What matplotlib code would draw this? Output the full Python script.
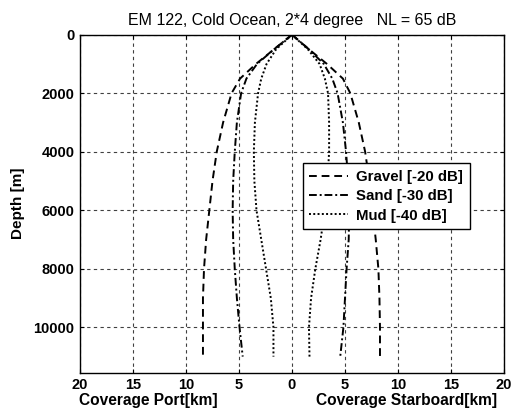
import numpy as np
import matplotlib
matplotlib.use("Agg")
import matplotlib.pyplot as plt

plt.rcParams["font.family"] = ["Liberation Sans", "DejaVu Sans"]

# depth samples [m] and coverage [km]; port side as negative x
depth = [0, 500, 1000, 1500, 2000, 3000, 4000, 5000, 6000, 7000, 8000, 9000, 10000, 11000]

gravel_port = [0, -1.7, -3.4, -4.9, -5.7, -6.5, -7.1, -7.5, -7.8, -8.1, -8.3, -8.4, -8.4, -8.4]
gravel_stbd = [0, 1.6, 3.3, 4.8, 5.5, 6.3, 6.9, 7.3, 7.6, 7.9, 8.15, 8.25, 8.3, 8.3]

sand_port = [0, -1.7, -3.3, -4.3, -4.8, -5.2, -5.4, -5.55, -5.6, -5.55, -5.4, -5.2, -4.95, -4.65]
sand_stbd = [0, 1.6, 3.0, 3.8, 4.3, 4.8, 5.1, 5.3, 5.4, 5.35, 5.15, 5.0, 4.85, 4.55]

mud_port = [0, -1.5, -2.4, -2.9, -3.2, -3.5, -3.6, -3.55, -3.35, -2.9, -2.45, -2.0, -1.75, -1.75]
mud_stbd = [0, 1.5, 2.6, 3.1, 3.4, 3.5, 3.5, 3.35, 3.1, 2.7, 2.2, 1.8, 1.6, 1.65]

x_ticks = [-20, -15, -10, -5, 0, 5, 10, 15, 20]
y_ticks = [0, 2000, 4000, 6000, 8000, 10000]

fig = plt.figure(figsize=(5.13, 4.15), dpi=100)
ax = fig.add_axes([80 / 513, 1 - 372.7 / 415, 424 / 513, 338 / 415])

lw = 1.4
g, = ax.plot(gravel_port, depth, color="black", lw=lw, ls=(0, (4, 2.5)), label="Gravel [-20 dB]")
ax.plot(gravel_stbd, depth, color="black", lw=lw, ls=(0, (4, 2.5)))
s, = ax.plot(sand_port, depth, color="black", lw=lw, ls=(0, (4, 1.5, 1, 1.5)), label="Sand [-30 dB]")
ax.plot(sand_stbd, depth, color="black", lw=lw, ls=(0, (4, 1.5, 1, 1.5)))
m, = ax.plot(mud_port, depth, color="black", lw=lw, ls=(0, (1, 1.2)), label="Mud [-40 dB]")
ax.plot(mud_stbd, depth, color="black", lw=lw, ls=(0, (1, 1.2)))

ax.set_xlim(-20, 20)
ax.set_ylim(11550, 0)
ax.set_xticks(x_ticks)
ax.set_xticklabels([str(abs(t)) for t in x_ticks])
ax.set_yticks(y_ticks)
ax.tick_params(direction="in", length=3, width=0.8, top=True, right=True,
               labelsize=10.5, pad=4)
for lbl in ax.get_xticklabels() + ax.get_yticklabels():
    lbl.set_fontweight("bold")

ax.grid(True, color="0.25", lw=0.8, ls=(0, (3, 3)))
for sp in ax.spines.values():
    sp.set_linewidth(1.0)

ax.set_ylabel("Depth [m]", fontsize=11, fontweight="bold", labelpad=6)
ax.set_title("EM 122, Cold Ocean, 2*4 degree   NL = 65 dB", fontsize=11.5, pad=7)

fig.text(148 / 513, 1 - 400 / 415, "Coverage Port[km]", ha="center", va="center",
         fontsize=11.2, fontweight="bold")
fig.text(407 / 513, 1 - 400 / 415, "Coverage Starboard[km]", ha="center", va="center",
         fontsize=11.2, fontweight="bold")

leg = ax.legend(handles=[g, s, m], loc="upper left",
                bbox_to_anchor=((302.7 - 80) / 424, (372.7 - 163.3) / 338),
                borderaxespad=0,
                prop={"weight": "bold", "size": 10.8},
                fancybox=False, framealpha=1, edgecolor="black",
                handlelength=2.6, handletextpad=0.5, borderpad=0.45, labelspacing=0.35)
leg.get_frame().set_linewidth(1.0)

fig.savefig("out.png", dpi=100)
